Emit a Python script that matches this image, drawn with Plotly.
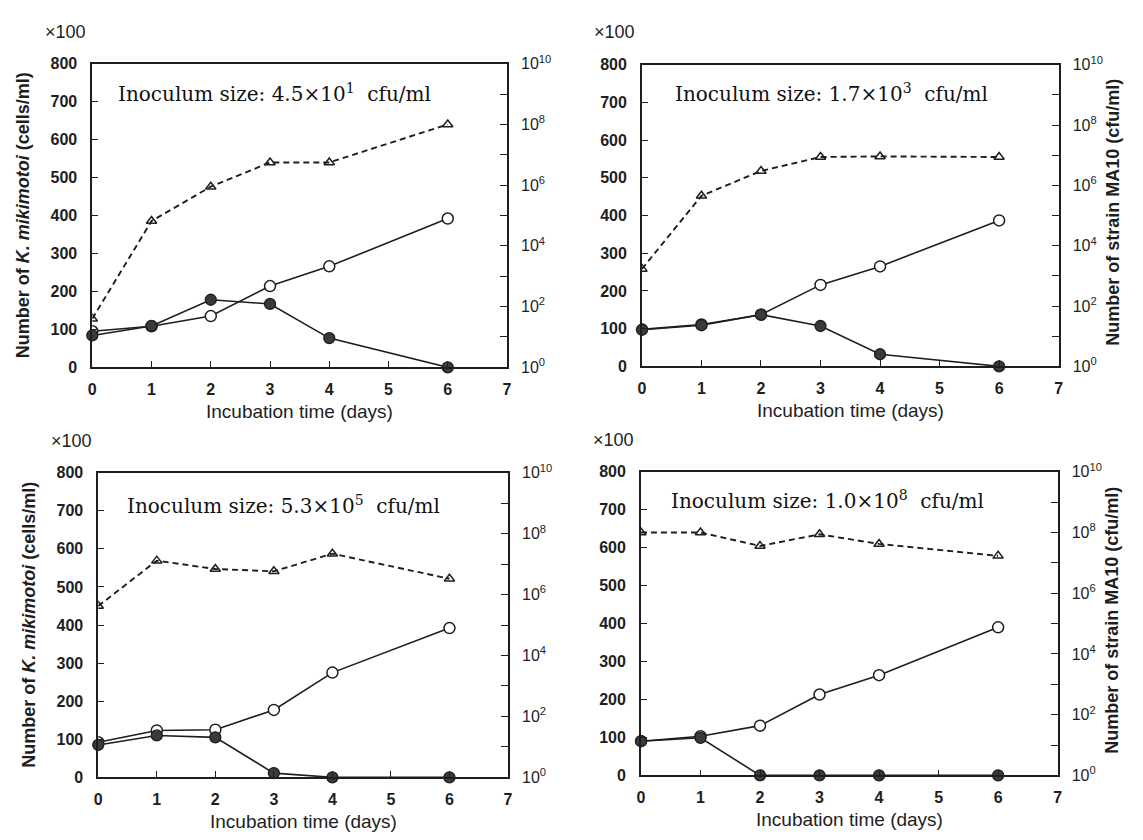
import plotly.graph_objects as go

W, H = 1143, 840

days = [0, 1, 2, 3, 4, 6]

# Panel 1: inoculum 4.5x10^1
p1_open = [95, 108, 135, 214, 266, 392]
p1_filled = [84, 109, 178, 167, 77, 0]
p1_tri = [4.0e1, 6.6e4, 8.9e5, 5.6e6, 5.6e6, 1.0e8]

# Panel 2: inoculum 1.7x10^3
p2_open = [98, 111, 137, 216, 265, 387]
p2_filled = [97, 109, 137, 107, 32, 0]
p2_tri = [1.7e3, 4.5e5, 3.0e6, 8.7e6, 9.1e6, 8.7e6]

# Panel 3: inoculum 5.3x10^5
p3_open = [92, 123, 125, 177, 275, 392]
p3_filled = [85, 110, 105, 11, 0, 0]
p3_tri = [4.2e5, 1.3e7, 6.9e6, 5.8e6, 2.2e7, 3.3e6]

# Panel 4: inoculum 1.0x10^8
p4_open = [90, 103, 131, 213, 264, 390]
p4_filled = [90, 99, 0, 0, 0, 0]
p4_tri = [1.0e8, 1.0e8, 3.6e7, 8.7e7, 4.2e7, 1.7e7]

inoculum_labels = [
    "Inoculum size: 4.5×10<sup>1</sup>  cfu/ml",
    "Inoculum size: 1.7×10<sup>3</sup>  cfu/ml",
    "Inoculum size: 5.3×10<sup>5</sup>  cfu/ml",
    "Inoculum size: 1.0×10<sup>8</sup>  cfu/ml",
]

left_ticks = [0, 100, 200, 300, 400, 500, 600, 700, 800]
right_tickvals = [10 ** k for k in range(0, 11)]
right_ticktext = [("10<sup>%d</sup>" % k) if k % 2 == 0 else "" for k in range(0, 11)]
x_ticks = [0, 1, 2, 3, 4, 5, 6, 7]

x_title = "Incubation time (days)"
left_title = "Number of <i>K. mikimotoi</i> (cells/ml)"
right_title = "Number of strain MA10 (cfu/ml)"
scale_label = "×100"

panels = [
    dict(open=p1_open, filled=p1_filled, tri=p1_tri, box=(89, 507, 54, 365), lab=(113, 84)),
    dict(open=p2_open, filled=p2_filled, tri=p2_tri, box=(643, 1063, 55, 364), lab=(674, 84)),
    dict(open=p3_open, filled=p3_filled, tri=p3_tri, box=(95, 508, 473, 785), lab=(122, 506)),
    dict(open=p4_open, filled=p4_filled, tri=p4_tri, box=(642, 1062, 472, 783), lab=(670, 501)),
]

INK = "#1e1e1e"
tick_font = dict(family="Liberation Sans", size=16, color=INK, weight="bold")
right_font = dict(family="Liberation Sans", size=16, color=INK)

fig = go.Figure()
layout = dict(
    width=W, height=H, margin=dict(l=0, r=0, t=0, b=0),
    paper_bgcolor="white", plot_bgcolor="white", showlegend=False,
)
annotations = []

for i, p in enumerate(panels, start=1):
    xa = "x" if i == 1 else "x%d" % i
    ya = "y" if i == 1 else "y%d" % i
    yr = "y%d" % (i + 4)
    l, r, t, b = p["box"]
    xdom = [l / W, r / W]
    ydom = [1 - b / H, 1 - t / H]

    fig.add_trace(go.Scatter(
        x=days, y=p["tri"], xaxis=xa, yaxis=yr, mode="lines+markers",
        line=dict(color=INK, width=1.9, dash="6px,4px"),
        marker=dict(symbol="triangle-up-open", size=9, color=INK, line=dict(width=1.5, color=INK)),
    ))
    fig.add_trace(go.Scatter(
        x=days, y=p["open"], xaxis=xa, yaxis=ya, mode="lines+markers",
        line=dict(color=INK, width=1.6),
        marker=dict(symbol="circle", size=11, color="white", line=dict(width=1.5, color=INK)),
    ))
    fig.add_trace(go.Scatter(
        x=days, y=p["filled"], xaxis=xa, yaxis=ya, mode="lines+markers",
        line=dict(color=INK, width=1.6),
        marker=dict(symbol="circle", size=11, color="#3a3a3a", line=dict(width=1.3, color=INK)),
        cliponaxis=False,
    ))

    xkey = "xaxis" if i == 1 else "xaxis%d" % i
    ykey = "yaxis" if i == 1 else "yaxis%d" % i
    yrkey = "yaxis%d" % (i + 4)
    layout[xkey] = dict(
        domain=xdom, anchor=ya, range=[0, 7], tickvals=x_ticks,
        ticks="inside", ticklen=6, tickcolor=INK, showline=True, mirror=True,
        linecolor=INK, linewidth=1.7, showgrid=False, zeroline=False,
        tickfont=tick_font, ticklabelstandoff=7,
    )
    layout[ykey] = dict(
        domain=ydom, anchor=xa, range=[0, 800], tickvals=left_ticks,
        ticks="inside", ticklen=6, tickcolor=INK, showline=True,
        linecolor=INK, linewidth=1.7, showgrid=False, zeroline=False,
        tickfont=tick_font, ticklabelstandoff=10,
    )
    layout[yrkey] = dict(
        domain=ydom, anchor=xa, overlaying=ya, side="right", type="log",
        range=[0, 10], tickvals=right_tickvals, ticktext=right_ticktext,
        ticks="inside", ticklen=7, tickcolor=INK, showline=True,
        linecolor=INK, linewidth=1.7, showgrid=False, zeroline=False,
        tickfont=right_font, ticklabelstandoff=9,
    )

    cx = (l + r) / 2
    # x-axis title
    annotations.append(dict(
        text=x_title, xref="paper", yref="paper", x=cx / W, y=1 - (b + 45) / H,
        xanchor="center", yanchor="middle", showarrow=False,
        font=dict(family="Liberation Sans", size=19, color=INK),
    ))
    # x100 label
    annotations.append(dict(
        text=scale_label, xref="paper", yref="paper", x=(l - 50) / W, y=1 - (t - 33) / H,
        xanchor="left", yanchor="middle", showarrow=False,
        font=dict(family="Liberation Sans", size=18, color=INK),
    ))
    # inoculum label
    lx, ly = p["lab"]
    annotations.append(dict(
        text=inoculum_labels[i - 1], xref="paper", yref="paper",
        x=lx / W, y=1 - ly / H,
        xanchor="left", yanchor="middle", showarrow=False,
        font=dict(family="DejaVu Serif", size=20, color="#111"),
    ))
    cy = (t + b) / 2
    if i in (1, 3):
        annotations.append(dict(
            text=left_title, xref="paper", yref="paper", x=(l - 70) / W, y=1 - cy / H,
            xanchor="center", yanchor="middle", showarrow=False, textangle=-90,
            font=dict(family="Liberation Sans", size=18, color=INK, weight="bold"),
        ))
    else:
        annotations.append(dict(
            text=right_title, xref="paper", yref="paper", x=(r + 54) / W, y=1 - (cy - 3) / H,
            xanchor="center", yanchor="middle", showarrow=False, textangle=-90,
            font=dict(family="Liberation Sans", size=18, color=INK, weight="bold"),
        ))

layout["annotations"] = annotations
fig.update_layout(**layout)
fig.write_html("out.html")
